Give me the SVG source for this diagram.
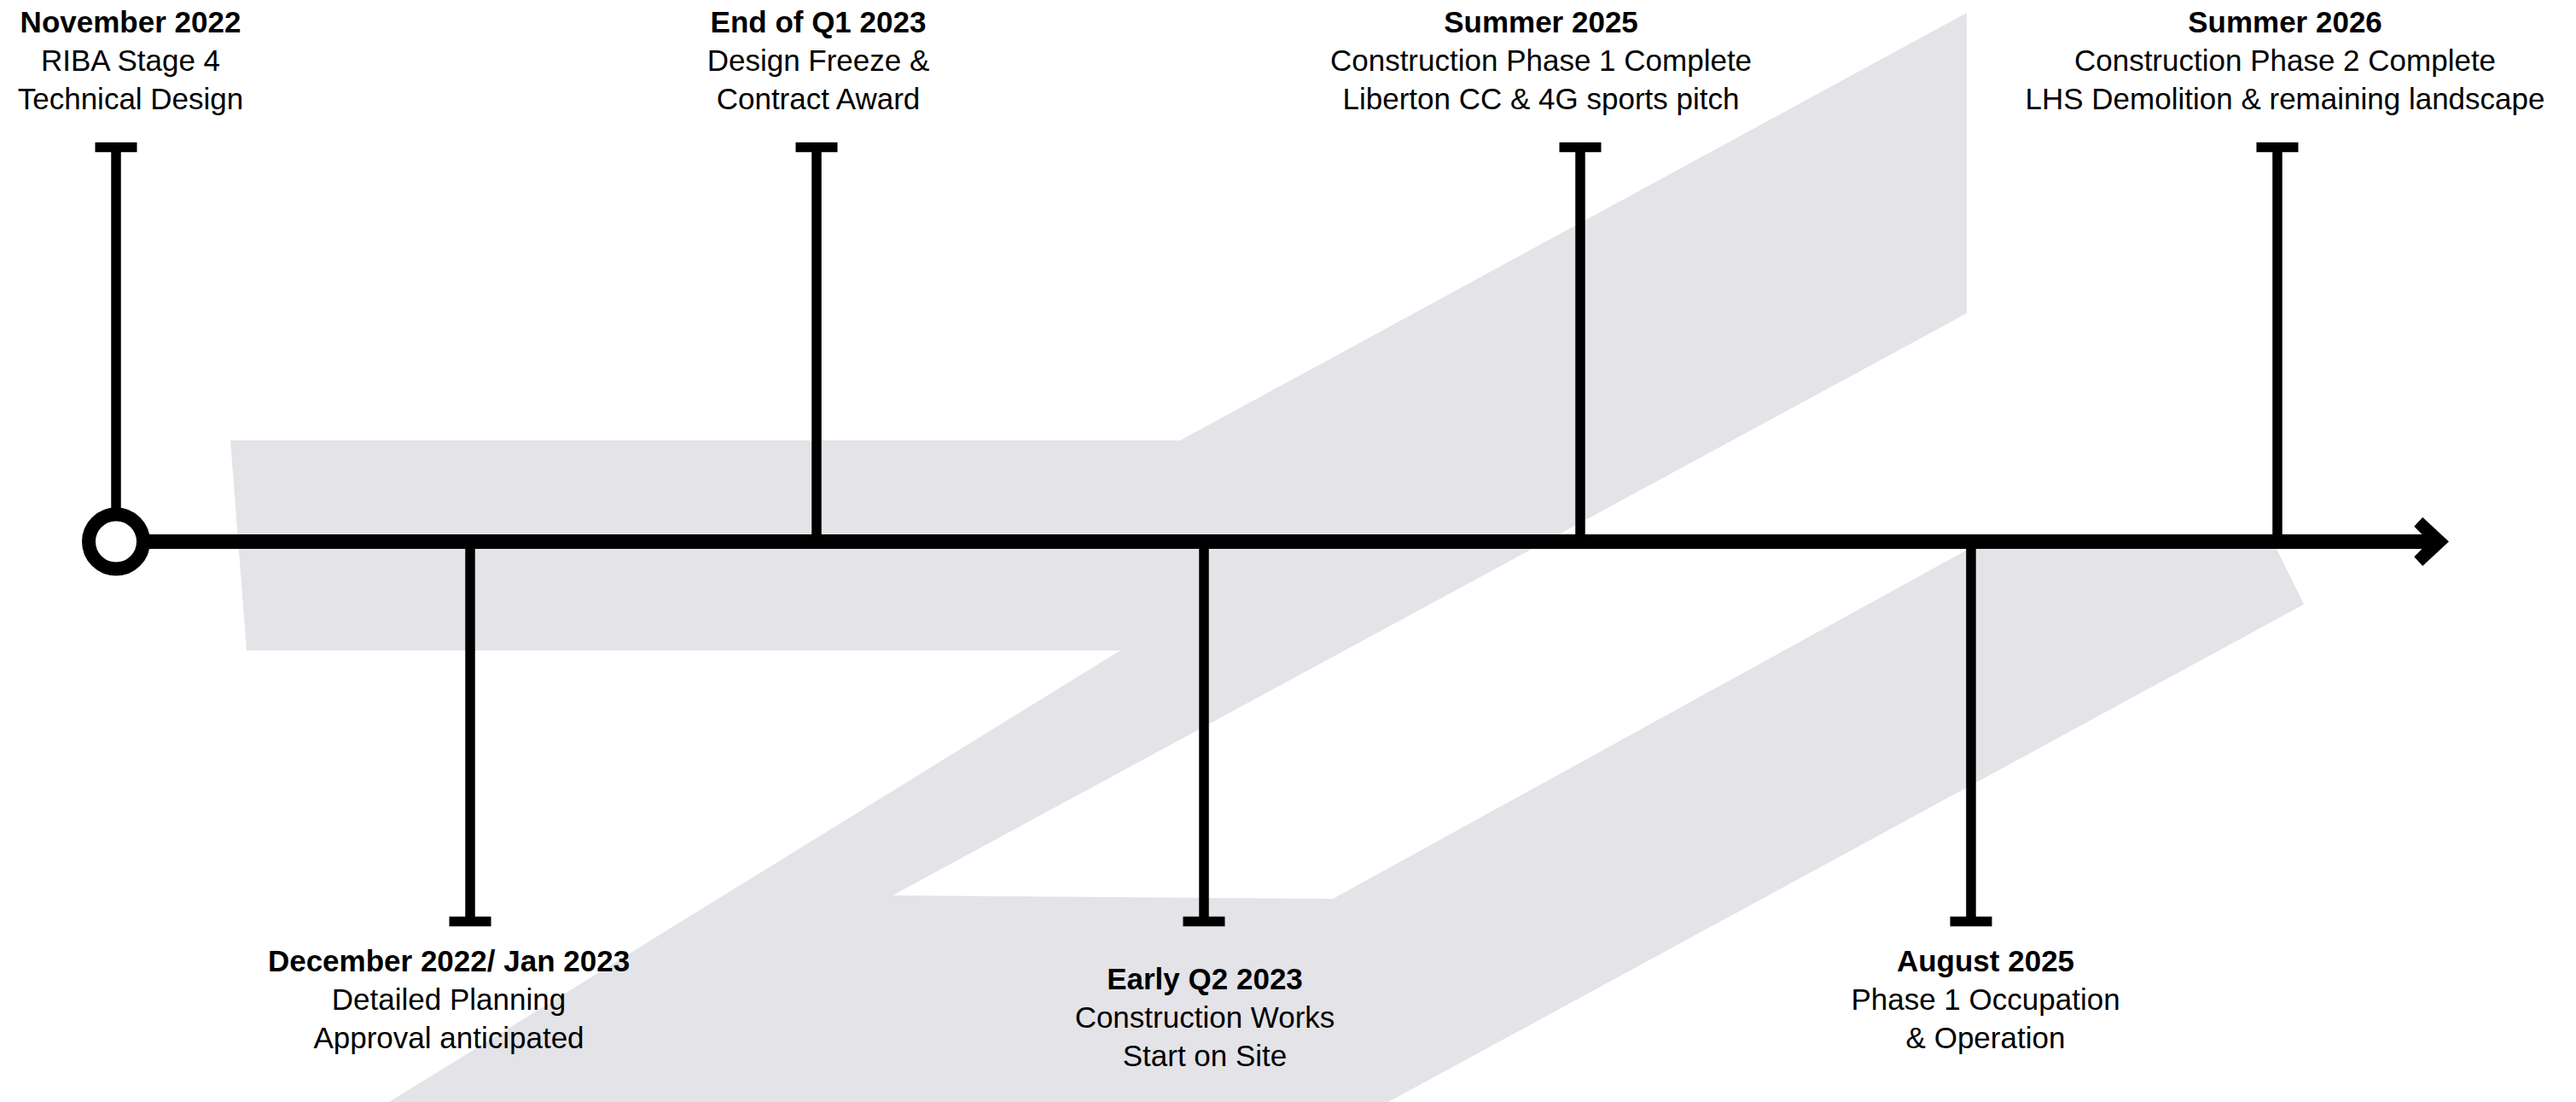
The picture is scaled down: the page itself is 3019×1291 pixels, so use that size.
<svg xmlns="http://www.w3.org/2000/svg" width="3019" height="1291" viewBox="0 0 3019 1291">
  <style>
    .bg { fill: #e3e3e8; }
    .tick { fill: none; stroke: #000; stroke-width: 11.5; }
    .axis { fill: none; stroke: #000; stroke-width: 17; }
    text { font-family: "Liberation Sans", Arial, sans-serif; font-size: 35px; fill: #000; text-anchor: middle; }
    .t { font-weight: bold; }
  </style>
  <rect width="3019" height="1291" fill="#ffffff"/>
  <g id="logo-background">
    <path class="bg" d="M270,516 L1383,516 L2305,15 L2305,367 L1046,1049 L1562,1053 L2311,641 L2667,641 L2700,708 L1627,1291 L456,1291 L1313,762 L289,762 Z"/>
  </g>
  <g id="connectors">
    <line class="axis" x1="170" y1="634.5" x2="2860" y2="634.5"/>
    <polygon id="arrowhead" fill="#000" points="2829.3,616.7 2839.3,606 2870,634.5 2839.3,663 2829.3,652.3 2847,634.5"/>
    <path class="tick" d="M136,600 V167 M111.5,172.5 H160.5"/>
    <path class="tick" d="M957,634 V167 M932.5,172.5 H981.5"/>
    <path class="tick" d="M1852,634 V167 M1827.5,172.5 H1876.5"/>
    <path class="tick" d="M2669,634 V167 M2644.5,172.5 H2693.5"/>
    <path class="tick" d="M551,634 V1085 M526.5,1079.5 H575.5"/>
    <path class="tick" d="M1411,634 V1085 M1386.5,1079.5 H1435.5"/>
    <path class="tick" d="M2310,634 V1085 M2285.5,1079.5 H2334.5"/>
  </g>
  <g id="start">
    <circle cx="136" cy="634.5" r="32" fill="#fff" stroke="#000" stroke-width="16"/>
  </g>
  <g id="m-nov-2022">
    <text x="153" y="38" class="t">November 2022</text>
    <text x="153" y="83">RIBA Stage 4</text>
    <text x="153" y="128">Technical Design</text>
  </g>
  <g id="m-dec-2022">
    <text x="526" y="1138" class="t">December 2022/ Jan 2023</text>
    <text x="526" y="1183">Detailed Planning</text>
    <text x="526" y="1228">Approval anticipated</text>
  </g>
  <g id="m-q1-2023">
    <text x="959" y="38" class="t">End of Q1 2023</text>
    <text x="959" y="83">Design Freeze &amp;</text>
    <text x="959" y="128">Contract Award</text>
  </g>
  <g id="m-q2-2023">
    <text x="1412" y="1159" class="t">Early Q2 2023</text>
    <text x="1412" y="1204">Construction Works</text>
    <text x="1412" y="1249">Start on Site</text>
  </g>
  <g id="m-summer-2025">
    <text x="1806" y="38" class="t">Summer 2025</text>
    <text x="1806" y="83">Construction Phase 1 Complete</text>
    <text x="1806" y="128">Liberton CC &amp; 4G sports pitch</text>
  </g>
  <g id="m-aug-2025">
    <text x="2327" y="1138" class="t">August 2025</text>
    <text x="2327" y="1183">Phase 1 Occupation</text>
    <text x="2327" y="1228">&amp; Operation</text>
  </g>
  <g id="m-summer-2026">
    <text x="2678" y="38" class="t">Summer 2026</text>
    <text x="2678" y="83">Construction Phase 2 Complete</text>
    <text x="2678" y="128">LHS Demolition &amp; remaining landscape</text>
  </g>
</svg>
